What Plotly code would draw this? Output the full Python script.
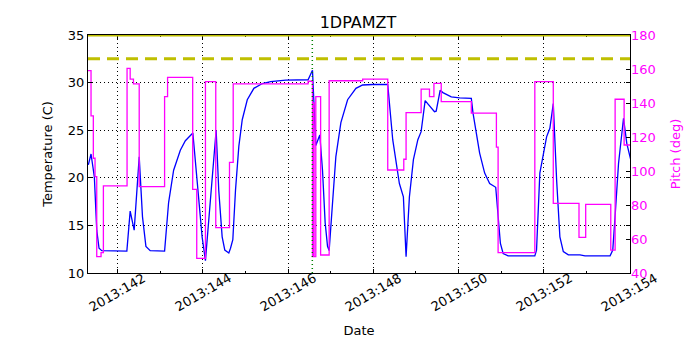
import plotly.graph_objects as go

# day of year 2013 vs 1DPAMZT temperature (C)
temp_day = [141.318, 141.381, 141.459, 141.515, 141.569, 141.633, 142.221, 142.299, 142.393, 142.511,
            142.588, 142.668, 142.769, 143.106, 143.2, 143.318, 143.475, 143.593, 143.769, 143.868,
            143.986, 144.064, 144.141, 144.235, 144.315, 144.376, 144.456, 144.518, 144.612, 144.652,
            144.706, 144.769, 144.847, 144.927, 145.045, 145.2, 145.398, 145.593, 145.946, 146.471,
            146.574, 146.652, 146.746, 146.809, 146.871, 146.927, 146.965, 147.045, 147.122, 147.24,
            147.398, 147.593, 147.751, 147.986, 148.339, 148.456, 148.534, 148.612, 148.706, 148.769,
            148.847, 148.941, 149.045, 149.122, 149.216, 149.334, 149.435, 149.475, 149.569, 149.633,
            149.828, 150.024, 150.299, 150.339, 150.416, 150.494, 150.612, 150.729, 150.871, 150.927,
            150.981, 151.045, 151.162, 151.788, 151.828, 151.906, 151.986, 152.064, 152.141, 152.221,
            152.299, 152.376, 152.456, 152.574, 152.847, 152.965, 153.553, 153.616, 153.671, 153.751,
            153.868, 153.946, 154.064]
temp_val = [21.35, 22.5, 20.1, 14.5, 12.6, 12.35, 12.3, 16.5, 14.5, 22.2,
            15.9, 12.8, 12.35, 12.3, 17.4, 20.8, 22.9, 23.9, 24.7, 19.8,
            13.8, 11.3, 15.3, 20.8, 25.0, 18.7, 13.8, 12.4, 12.1, 12.6,
            13.5, 18.7, 23.3, 26.1, 28.2, 29.4, 29.9, 30.1, 30.27, 30.3,
            31.3, 23.4, 24.5, 20.8, 15.3, 12.8, 12.35, 17.4, 22.2, 25.8,
            28.2, 29.4, 29.75, 29.8, 29.8, 24.0, 21.5, 19.4, 18.0, 11.7,
            18.0, 21.9, 24.0, 24.85, 28.1, 27.5, 26.95, 27.0, 29.2, 28.95,
            28.5, 28.4, 28.35, 26.8, 24.7, 22.6, 20.5, 19.4, 19.0, 15.9,
            13.1, 12.05, 11.8, 11.8, 12.4, 20.5, 22.6, 24.3, 25.2, 27.8,
            19.8, 13.8, 12.25, 11.9, 11.9, 11.8, 11.8, 12.4, 16.0, 21.5,
            26.25, 23.6, 21.4]

# pitch (deg), step changes
pitch_day = [141.31, 141.381, 141.435, 141.475, 141.515, 141.616, 141.671, 142.226, 142.299, 142.376,
             142.511, 143.106, 143.176, 143.765, 143.86, 144.064, 144.306, 144.628, 144.715, 146.471,
             146.574, 146.595, 146.612, 146.652, 146.765, 146.965, 147.751, 148.339, 148.715, 148.769,
             149.122, 149.318, 149.422, 149.593, 150.299, 150.887, 150.927, 151.788, 152.221, 152.824,
             152.981, 153.569, 153.671, 153.882, 154.06]
pitch_val = [159.0, 132.4, 107.5, 96.7, 49.6, 52.0, 91.2, 160.4, 154.0, 151.2,
             90.8, 143.7, 155.1, 89.2, 48.6, 152.6, 66.7, 105.1, 151.2, 152.8,
             49.6, 140.0, 49.6, 143.7, 50.6, 153.1, 154.0, 100.6, 106.9, 134.3,
             148.2, 143.7, 151.6, 140.8, 134.0, 114.0, 52.0, 152.6, 81.0, 61.0,
             80.4, 53.5, 142.2, 115.3, 115.3]

planning_limit = 32.5
caution_limit = 35.0
marker_day = 146.57

x_ticks = [142, 144, 146, 148, 150, 152, 154]
x_labels = ["2013:%d" % d for d in x_ticks]
x_range = [141.31, 154.02]

font = "DejaVu Sans"
grid_dash = "1px,3px"
fig = go.Figure()

fig.add_trace(go.Scatter(x=temp_day, y=temp_val, mode="lines",
                         line=dict(color="#0000ff", width=1.3), yaxis="y"))
fig.add_trace(go.Scatter(x=pitch_day, y=pitch_val, mode="lines",
                         line=dict(color="#ff00ff", width=1.3, shape="hv"), yaxis="y2"))

fig.add_hline(y=planning_limit, line=dict(color="#bfbf00", width=3, dash="12px,7px"))
fig.add_hline(y=caution_limit, line=dict(color="#bfbf00", width=3))
fig.add_vline(x=marker_day, line=dict(color="#008000", width=1.5, dash="1px,3px"))

for d, lab in zip(x_ticks, x_labels):
    fig.add_annotation(x=d, y=-0.185, xref="x", yref="paper", text=lab, showarrow=False,
                       textangle=-30, font=dict(family=font, size=13, color="black"))

fig.update_layout(
    width=700, height=350,
    margin=dict(l=80, r=78, t=27, b=85),
    paper_bgcolor="white", plot_bgcolor="white",
    showlegend=False,
    font=dict(family=font, size=13, color="black"),
    title=dict(text="1DPAMZT", x=0.5, xanchor="center", y=0.96, yanchor="middle",
               font=dict(family=font, size=16, color="black")),
    xaxis=dict(range=x_range, tickmode="linear", tick0=142, dtick=2, showticklabels=False,
               ticks="inside", ticklen=4, tickcolor="black", mirror="ticks",
               showline=True, linecolor="black", linewidth=1.3, zeroline=False,
               showgrid=True, gridcolor="black", griddash=grid_dash, gridwidth=1,
               minor=dict(tick0=141, dtick=1, ticks="inside", ticklen=2, tickcolor="black", showgrid=False),
               title=dict(text="Date", standoff=52, font=dict(family=font, size=13))),
    yaxis=dict(range=[10, 35], tickmode="linear", tick0=10, dtick=5,
               ticks="inside", ticklen=4, tickcolor="black", mirror="ticks",
               showline=True, linecolor="black", linewidth=1.3, zeroline=False,
               showgrid=True, gridcolor="black", griddash=grid_dash, gridwidth=1,
               tickfont=dict(family=font, size=13, color="black"),
               title=dict(text="Temperature (C)", standoff=12, font=dict(family=font, size=13))),
    yaxis2=dict(range=[40, 180], tickmode="linear", tick0=40, dtick=20, overlaying="y", side="right",
                ticks="inside", ticklen=4, tickcolor="black", showgrid=False, zeroline=False,
                showline=False,
                tickfont=dict(family=font, size=13, color="#ff00ff"),
                title=dict(text="Pitch (deg)", standoff=16, font=dict(family=font, size=13, color="#ff00ff"))),
)

fig.write_html("out.html")
